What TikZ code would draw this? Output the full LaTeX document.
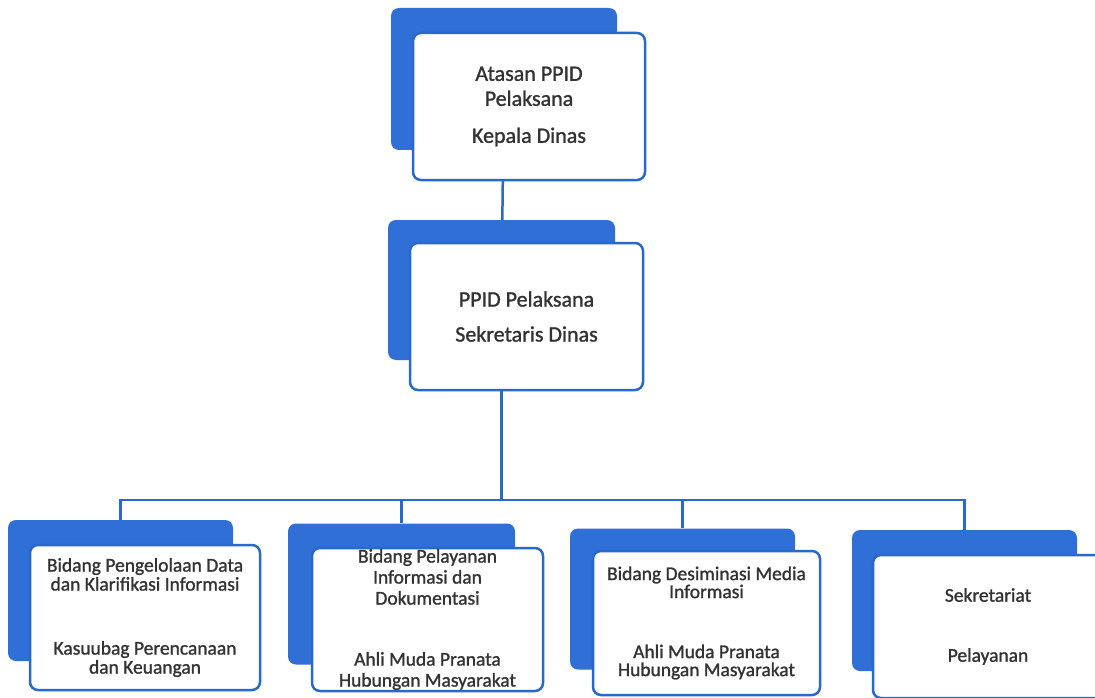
\documentclass[tikz,border=0pt]{standalone}
\usepackage{fontspec}
\setmainfont{Carlito}[RawFeature={embolden=1.2}]
\usepackage{tikz}
\usetikzlibrary{backgrounds}
\definecolor{boxblue}{RGB}{47,111,214}
\definecolor{edgeblue}{RGB}{40,105,205}
\tikzset{
    card/.style={draw=edgeblue, line width=2.5pt, fill=white, rounded corners=8pt,
        minimum width=230pt, minimum height=145pt, inner sep=0pt, align=center,
        text=black!80, font=\fontsize{19.5}{19}\selectfont},
    bigcard/.style={card, font=\fontsize{22}{25}\selectfont},
    back/.style={fill=boxblue, rounded corners=8pt, minimum width=225pt,
        minimum height=141pt, inner sep=0pt},
    link/.style={draw=edgeblue, line width=2.5pt},
}

\begin{document}
\begin{tikzpicture}[x=1pt, y=-1pt]
    \useasboundingbox (0, 0) rectangle (1095, 698);

    % back cards
    \node[back, minimum width=226pt, minimum height=142pt] (topback) at (504, 79) {};
    \node[back, minimum width=227pt, minimum height=140pt] (midback) at (501.5, 290) {};
    \node[back] (bidAback) at (120.5, 590.5) {};
    \node[back, minimum width=227pt] (bidBback) at (401.5, 594) {};
    \node[back] (bidCback) at (682.5, 599) {};
    \node[back] (bidDback) at (964.5, 600.5) {};

    % front cards
    \node[bigcard, minimum width=232pt, minimum height=147pt] (top) at (529, 106.5)
        {Atasan PPID\\Pelaksana\\[12pt]Kepala Dinas};
    \node[bigcard, minimum width=233pt, minimum height=147pt] (mid) at (526.5, 316.5)
        {PPID Pelaksana\\[10pt]Sekretaris Dinas};
    \node[card] (bidA) at (145, 617.5)
        {Bidang Pengelolaan Data\\dan Klarifikasi Informasi\\[45pt]Kasuubag Perencanaan\\dan Keuangan};
    \node[card, minimum width=231pt, minimum height=143pt, font=\fontsize{19.5}{21}\selectfont] (bidB) at (427.5, 619.5)
        {Bidang Pelayanan\\Informasi dan\\Dokumentasi\\[40pt]Ahli Muda Pranata\\Hubungan Masyarakat};
    \node[card, minimum width=227pt, minimum height=144pt, font=\fontsize{19.5}{18}\selectfont] (bidC) at (706.5, 623)
        {Bidang Desiminasi Media\\Informasi\\[42pt]Ahli Muda Pranata\\Hubungan Masyarakat};
    \node[card, minimum height=143pt] (bidD) at (988, 626.5)
        {Sekretariat\\[41pt]Pelayanan};

    % connectors
    \coordinate (bus) at (500, 500);
    \begin{scope}[on background layer]
        \draw[link] (topback) -- (midback);
        \draw[link] (midback) -- (midback |- bus);
        \draw[link] (bidAback) -- (bidAback |- bus) -| (bidDback);
        \foreach \n in {bidBback, bidCback}{
            \draw[link] (\n) -- (\n |- bus);
        }
    \end{scope}

\end{tikzpicture}
\end{document}
